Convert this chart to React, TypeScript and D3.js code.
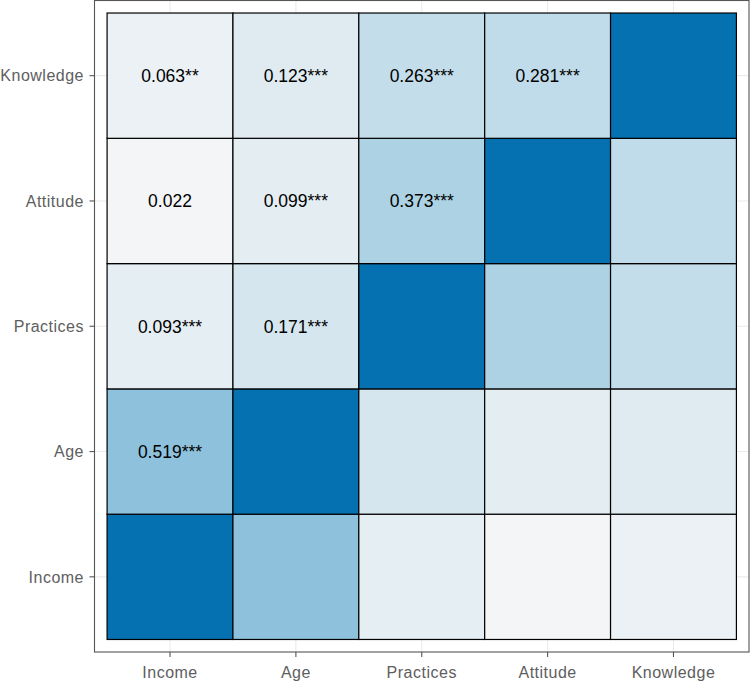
import React from "react";
import * as d3 from "d3";

const variables = ["Income", "Age", "Practices", "Attitude", "Knowledge"];

// correlations (row var, col var, r, significance stars)
const pairA = ["Income", "Income", "Income", "Income", "Age", "Age", "Age", "Practices", "Practices", "Attitude"];
const pairB = ["Age", "Practices", "Attitude", "Knowledge", "Practices", "Attitude", "Knowledge", "Attitude", "Knowledge", "Knowledge"];
const rValues = [0.519, 0.093, 0.022, 0.063, 0.171, 0.099, 0.123, 0.373, 0.263, 0.281];
const stars = ["***", "***", "", "**", "***", "***", "***", "***", "***", "***"];

const paletteStops = [-1, -0.5, 0, 0.5, 1];
const paletteColors = ["#ca0020", "#f4a582", "#f7f7f7", "#92c5de", "#0571b0"];

const W = 750;
const H = 683;
const panel = { left: 94.5, right: 749, top: 0.5, bottom: 652 };

export default function App() {
  const x = d3.scaleBand<string>().domain(variables).range([panel.left, panel.right]).paddingInner(0).paddingOuter(0.1);
  const y = d3.scaleBand<string>().domain(variables).range([panel.bottom, panel.top]).paddingInner(0).paddingOuter(0.1);
  const color = d3.scaleLinear<string>().domain(paletteStops).range(paletteColors).interpolate(d3.interpolateLab);

  const lookup = (a: string, b: string) => {
    if (a === b) return { r: 1, s: "" };
    for (let i = 0; i < rValues.length; i++) {
      if ((pairA[i] === a && pairB[i] === b) || (pairA[i] === b && pairB[i] === a)) return { r: rValues[i], s: stars[i] };
    }
    return { r: 0, s: "" };
  };

  const cells: { cx: string; ry: string; r: number; s: string; label: boolean }[] = [];
  variables.forEach((cv, ci) => {
    variables.forEach((rv, ri) => {
      const v = lookup(cv, rv);
      cells.push({ cx: cv, ry: rv, r: v.r, s: v.s, label: ri > ci });
    });
  });

  const bw = x.bandwidth();
  const bh = y.bandwidth();
  const font = "Liberation Sans, Arial, Helvetica, sans-serif";

  return (
    <svg width={W} height={H} style={{ position: "absolute", left: 0, top: 0 }} fontFamily={font}>
      <rect x={0} y={0} width={W} height={H} fill="#ffffff" />
      {/* grid */}
      {variables.map((v) => (
        <line key={"gx" + v} x1={x(v)! + bw / 2} x2={x(v)! + bw / 2} y1={panel.top} y2={panel.bottom} stroke="#ebebeb" strokeWidth={1.1} />
      ))}
      {variables.map((v) => (
        <line key={"gy" + v} y1={y(v)! + bh / 2} y2={y(v)! + bh / 2} x1={panel.left} x2={panel.right} stroke="#ebebeb" strokeWidth={1.1} />
      ))}
      {/* tiles */}
      {cells.map((c, i) => (
        <rect key={"t" + i} x={x(c.cx)} y={y(c.ry)} width={bw} height={bh} fill={color(c.r)} stroke="#000000" strokeWidth={1.2} />
      ))}
      {cells.filter((c) => c.label).map((c, i) => (
        <text key={"l" + i} x={x(c.cx)! + bw / 2} y={y(c.ry)! + bh / 2} dy="0.36em" textAnchor="middle" fontSize={17.5} fill="#000000">
          {c.r.toFixed(3) + c.s}
        </text>
      ))}
      {/* panel border */}
      <rect x={panel.left} y={panel.top} width={panel.right - panel.left} height={panel.bottom - panel.top} fill="none" stroke="#555555" strokeWidth={1.1} />
      {/* x axis */}
      {variables.map((v) => (
        <g key={"xt" + v}>
          <line x1={x(v)! + bw / 2} x2={x(v)! + bw / 2} y1={panel.bottom} y2={panel.bottom + 5} stroke="#555555" strokeWidth={1.1} />
          <text x={x(v)! + bw / 2} y={678} textAnchor="middle" fontSize={16} letterSpacing={0.5} fill="#5e5e5e">{v}</text>
        </g>
      ))}
      {/* y axis */}
      {variables.map((v) => (
        <g key={"yt" + v}>
          <line x1={panel.left - 5} x2={panel.left} y1={y(v)! + bh / 2} y2={y(v)! + bh / 2} stroke="#555555" strokeWidth={1.1} />
          <text x={84} y={y(v)! + bh / 2} dy="0.36em" textAnchor="end" fontSize={16} letterSpacing={0.5} fill="#5e5e5e">{v}</text>
        </g>
      ))}
    </svg>
  );
}
